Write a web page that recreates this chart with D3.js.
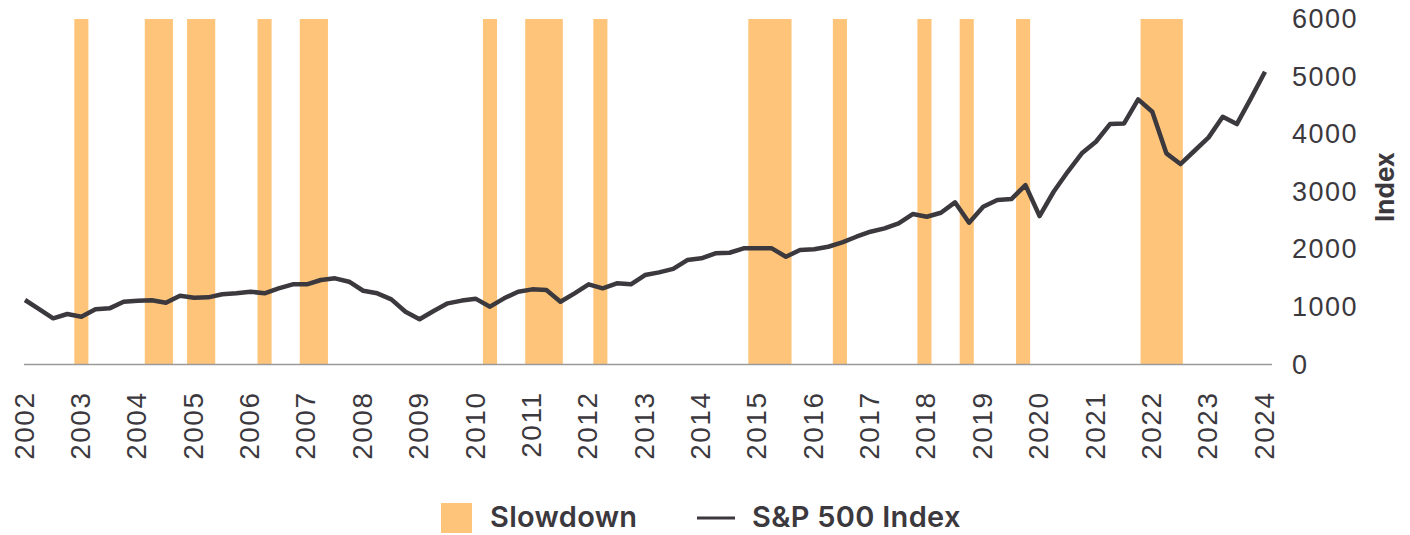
<!DOCTYPE html>
<html>
<head>
<meta charset="utf-8">
<script src="https://cdn.jsdelivr.net/npm/d3@7"></script>
<style>
  body { margin: 0; background: #fff; }
  svg { display: block; font-family: Inter, "Noto Sans", sans-serif; }
</style>
</head>
<body>
<svg id="chart" width="1410" height="535"></svg>
<script>
// S&P 500 quarterly values, Q1 2002 .. Q1 2024
var startYear = 2002;
var spValues = [1120, 960, 802, 877, 830, 958, 975, 1090, 1108, 1115, 1073, 1195, 1160, 1166, 1219,
  1236, 1264, 1236, 1323, 1392, 1392, 1467, 1496, 1438, 1281, 1236, 1132, 917, 785, 930,
  1062, 1110, 1140, 1004, 1149, 1264, 1305, 1293, 1090, 1236, 1392, 1323, 1410, 1392, 1554,
  1600, 1660, 1814, 1844, 1931, 1941, 2017, 2017, 2017, 1872, 1988, 2000, 2045, 2121, 2219,
  2306, 2365, 2451, 2613, 2566, 2635, 2816, 2462, 2740, 2856, 2873, 3116, 2578, 3000, 3347,
  3667, 3868, 4175, 4187, 4604, 4389, 3667, 3481, 3712, 3944, 4302, 4175, 4622, 5083];

// slowdown periods, decimal years
var slowStart = [2002.875, 2004.125, 2004.875, 2006.125, 2006.875, 2010.125, 2010.875, 2012.083,
  2014.833, 2016.333, 2017.833, 2018.583, 2019.583, 2021.792];
var slowEnd = [2003.125, 2004.625, 2005.375, 2006.375, 2007.375, 2010.375, 2011.542, 2012.333,
  2015.6, 2016.583, 2018.083, 2018.833, 2019.833, 2022.542];

var yearTicks = d3.range(2002, 2025);
var indexTicks = [0, 1000, 2000, 3000, 4000, 5000, 6000];

var svg = d3.select('#chart');
var ink = '#3c393e';

var xScale = d3.scaleLinear().domain([2002, 2024]).range([25, 1265]);
var yScale = d3.scaleLinear().domain([0, 6000]).range([364.5, 19]);

// Slowdown bands
svg.append('g').selectAll('rect')
  .data(slowStart.map((s, i) => [s, slowEnd[i]]))
  .join('rect')
  .attr('x', d => xScale(d[0]))
  .attr('width', d => xScale(d[1]) - xScale(d[0]))
  .attr('y', yScale(6000))
  .attr('height', yScale(0) - yScale(6000))
  .attr('fill', '#fec57a');

// Baseline
svg.append('line')
  .attr('x1', 24).attr('x2', 1272)
  .attr('y1', yScale(0)).attr('y2', yScale(0))
  .attr('stroke', '#9a9a9a').attr('stroke-width', 1.5);

// X axis (rotated year labels)
var xAxis = d3.axisBottom(xScale).tickValues(yearTicks).tickFormat(d3.format('d')).tickSize(0);
var gx = svg.append('g').attr('transform', 'translate(-2,' + yScale(0) + ')').call(xAxis);
gx.select('.domain').remove();
gx.selectAll('text')
  .attr('transform', 'rotate(-90)')
  .attr('x', -27).attr('y', 0).attr('dy', '0.36em')
  .attr('text-anchor', 'end')
  .attr('fill', ink)
  .style('font-size', '28px')
  .style('letter-spacing', '1.5px');

// Y axis on the right
var yAxis = d3.axisRight(yScale).tickValues(indexTicks).tickFormat(d3.format('d')).tickSize(0).tickPadding(0);
var gy = svg.append('g').attr('transform', 'translate(1292,0)').call(yAxis);
gy.select('.domain').remove();
gy.selectAll('text')
  .attr('fill', ink)
  .style('font-size', '27px')
  .style('letter-spacing', '1.5px');

svg.append('text')
  .attr('transform', 'translate(1394,187) rotate(-90)')
  .attr('text-anchor', 'middle')
  .attr('fill', ink)
  .style('font-size', '26px')
  .style('font-weight', 700)
  .text('Index');

// S&P line
var line = d3.line()
  .x((d, i) => xScale(startYear + i / 4))
  .y(d => yScale(d));

svg.append('path')
  .datum(spValues)
  .attr('d', line)
  .attr('fill', 'none')
  .attr('stroke', ink)
  .attr('stroke-width', 4.5)
  .attr('stroke-linejoin', 'round');

// Legend
var legend = svg.append('g');
legend.append('rect')
  .attr('x', 441).attr('y', 503).attr('width', 31).attr('height', 30)
  .attr('fill', '#fec57a');
legend.append('text')
  .attr('x', 490).attr('y', 517).attr('dy', '0.36em')
  .attr('fill', ink).style('font-size', '29px').style('font-weight', 600)
  .style('letter-spacing', '0.3px')
  .text('Slowdown');
legend.append('line')
  .attr('x1', 697).attr('x2', 735).attr('y1', 518).attr('y2', 518)
  .attr('stroke', ink).attr('stroke-width', 3);
legend.append('text')
  .attr('x', 752).attr('y', 517).attr('dy', '0.36em')
  .attr('fill', ink).style('font-size', '29px').style('font-weight', 600)
  .style('letter-spacing', '0.3px')
  .text('S&P 500 Index');
</script>
</body>
</html>
